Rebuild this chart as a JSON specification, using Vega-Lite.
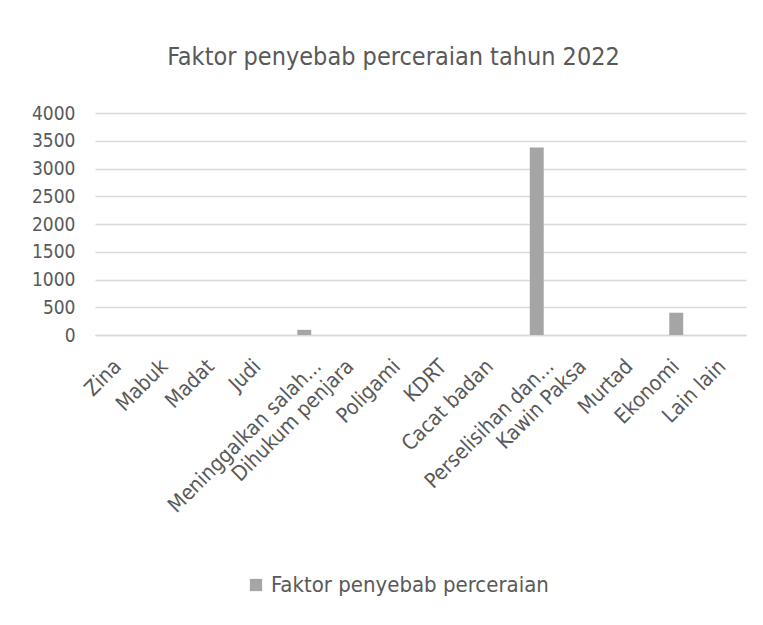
{
  "$schema": "https://vega.github.io/schema/vega-lite/v6.json",
  "width": 651,
  "height": 222,
  "autosize": {"type": "none"},
  "padding": {"left": 95, "top": 113, "right": 17, "bottom": 290},
  "background": "white",
  "title": {
    "text": "Faktor penyebab perceraian tahun 2022",
    "font": "DejaVu Sans Condensed, Roboto, sans-serif",
    "fontSize": 25,
    "fontWeight": "normal",
    "color": "#595959",
    "anchor": "middle",
    "dx": -27,
    "offset": 34
  },
  "data": {
    "values": [
      {"faktor": "Zina", "jumlah": 0, "seri": "Faktor penyebab perceraian"},
      {"faktor": "Mabuk", "jumlah": 0, "seri": "Faktor penyebab perceraian"},
      {"faktor": "Madat", "jumlah": 0, "seri": "Faktor penyebab perceraian"},
      {"faktor": "Judi", "jumlah": 0, "seri": "Faktor penyebab perceraian"},
      {"faktor": "Meninggalkan salah...", "jumlah": 93, "seri": "Faktor penyebab perceraian"},
      {"faktor": "Dihukum penjara", "jumlah": 0, "seri": "Faktor penyebab perceraian"},
      {"faktor": "Poligami", "jumlah": 0, "seri": "Faktor penyebab perceraian"},
      {"faktor": "KDRT", "jumlah": 0, "seri": "Faktor penyebab perceraian"},
      {"faktor": "Cacat badan", "jumlah": 0, "seri": "Faktor penyebab perceraian"},
      {"faktor": "Perselisihan dan...", "jumlah": 3380, "seri": "Faktor penyebab perceraian"},
      {"faktor": "Kawin Paksa", "jumlah": 0, "seri": "Faktor penyebab perceraian"},
      {"faktor": "Murtad", "jumlah": 0, "seri": "Faktor penyebab perceraian"},
      {"faktor": "Ekonomi", "jumlah": 401, "seri": "Faktor penyebab perceraian"},
      {"faktor": "Lain lain", "jumlah": 0, "seri": "Faktor penyebab perceraian"}
    ]
  },
  "mark": {"type": "bar"},
  "encoding": {
    "x": {
      "field": "faktor",
      "type": "nominal",
      "sort": null,
      "scale": {"paddingInner": 0.7, "paddingOuter": 0.35},
      "axis": {
        "title": null,
        "labelAngle": -45,
        "labelAlign": "right",
        "labelBaseline": "middle",
        "labelFont": "DejaVu Sans Condensed, Roboto, sans-serif",
        "labelFontSize": 21,
        "labelColor": "#595959",
        "labelLimit": 300,
        "labelPadding": 28,
        "labelOffset": {"condition": {"test": "datum.value === 'Meninggalkan salah...' || datum.value === 'Perselisihan dan...'", "value": 14}, "value": 0},
        "ticks": false,
        "domainColor": "#D9D9D9",
        "domainWidth": 1.5,
        "grid": false
      }
    },
    "y": {
      "field": "jumlah",
      "type": "quantitative",
      "scale": {"domain": [0, 4000]},
      "axis": {
        "title": null,
        "values": [0, 500, 1000, 1500, 2000, 2500, 3000, 3500, 4000],
        "format": "d",
        "labelFont": "DejaVu Sans Condensed, Roboto, sans-serif",
        "labelFontSize": 19,
        "labelColor": "#595959",
        "labelPadding": 20,
        "ticks": false,
        "domain": false,
        "grid": true,
        "gridColor": "#D9D9D9",
        "gridWidth": 1.5
      }
    },
    "color": {
      "field": "seri",
      "type": "nominal",
      "scale": {"range": ["#A5A5A5"]},
      "legend": {
        "title": null,
        "orient": "none",
        "legendX": 150,
        "legendY": 461,
        "symbolType": "square",
        "symbolSize": 150,
        "labelFont": "DejaVu Sans Condensed, Roboto, sans-serif",
        "labelFontSize": 22,
        "labelColor": "#595959",
        "labelLimit": 400
      }
    }
  },
  "config": {
    "view": {"stroke": null}
  }
}
